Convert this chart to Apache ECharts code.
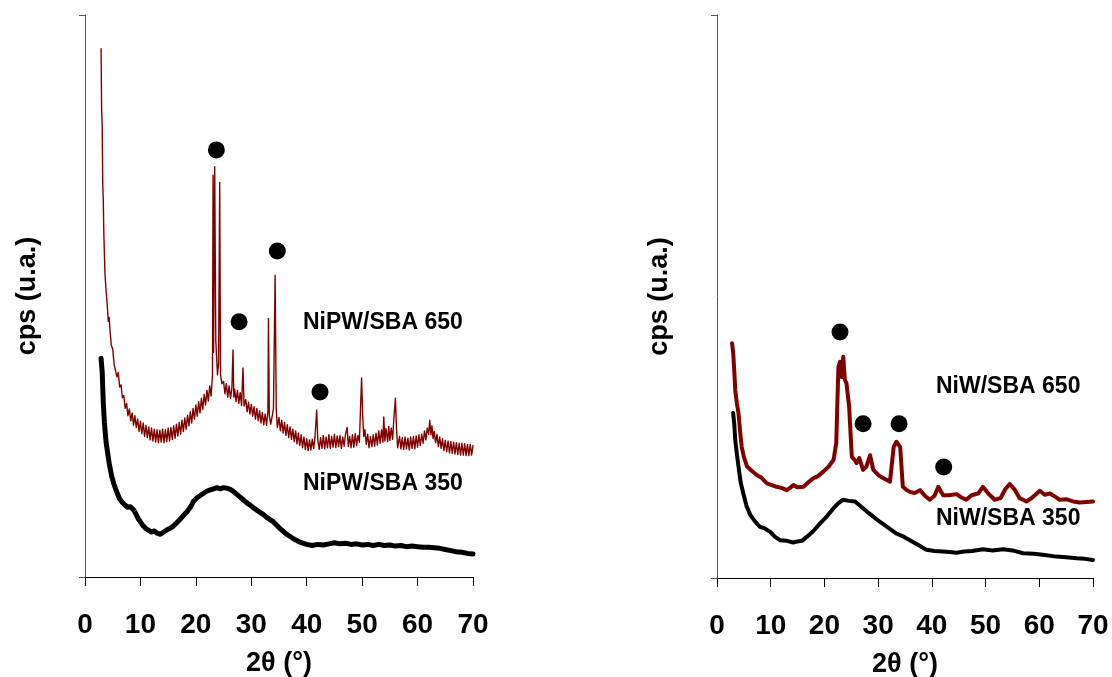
<!DOCTYPE html>
<html><head><meta charset="utf-8">
<script src="https://cdn.jsdelivr.net/npm/echarts@6/dist/echarts.min.js"></script>
<style>html,body{margin:0;padding:0;background:#fff}#c{width:1112px;height:677px}</style>
</head><body><div id="c"></div>
<script>
const xTicks = [0,10,20,30,40,50,60,70];
const xTitle = '2θ (°)';
const yTitle = 'cps (u.a.)';
const seriesNames = ['NiPW/SBA 650','NiPW/SBA 350','NiW/SBA 650','NiW/SBA 350'];

const nipw650 = [[2.9,94],[3.0,83],[3.1,80.5],[3.2,70],[3.3,67],[3.4,61],[3.5,57.5],[3.6,54],[3.8,51],[4.0,48.5],[4.2,45.5],[4.35,46.2],[4.5,44.0],[4.75,41.2],[5.0,40.6],[5.25,37.9],[5.5,38.1],[5.75,35.6],[6.0,36.4],[6.25,33.8],[6.5,34.2],[6.75,31.9],[7.0,32.3],[7.25,30.0],[7.5,30.9],[7.75,28.7],[8.0,29.9],[8.25,27.8],[8.5,29.2],[8.75,27.0],[9.0,28.7],[9.25,26.6],[9.5,28.1],[9.75,25.9],[10.0,27.7],[10.25,25.5],[10.5,27.4],[10.75,25.0],[11.0,27.0],[11.25,24.8],[11.5,26.7],[11.75,24.4],[12.0,26.5],[12.25,24.2],[12.5,26.3],[12.75,24.0],[13.0,26.2],[13.25,23.9],[13.5,26.1],[13.75,24.0],[14.0,26.3],[14.25,23.9],[14.5,26.2],[14.75,24.1],[15.0,26.5],[15.25,24.2],[15.5,26.6],[15.75,24.5],[16.0,26.9],[16.25,24.7],[16.5,27.2],[16.75,25.1],[17.0,27.5],[17.25,25.4],[17.5,27.9],[17.75,25.9],[18.0,28.3],[18.25,26.3],[18.5,28.8],[18.75,26.9],[19.0,29.4],[19.25,27.4],[19.5,30.0],[19.75,28.1],[20.0,30.6],[20.25,28.6],[20.5,31.2],[20.75,29.2],[21.0,31.8],[21.25,29.8],[21.5,32.5],[21.75,30.6],[22.0,33.2],[22.25,31.3],[22.5,34.0],[22.75,32.2],[23.0,36],[23.1,71.5],[23.2,40],[23.4,73],[23.6,42],[23.9,36],[24.1,38],[24.3,70.2],[24.45,36],[24.7,34.4],[25.0,34.8],[25.25,32.6],[25.5,34.4],[25.75,32.0],[26.0,34.0],[26.25,31.8],[26.5,33.6],[26.7,40.4],[26.85,32.0],[27.0,33.4],[27.25,31.2],[27.5,33.2],[27.75,30.9],[28.0,32.8],[28.25,30.5],[28.5,37.2],[28.7,30.4],[29.0,31.6],[29.25,29.4],[29.5,31.1],[29.75,29.0],[30.0,30.7],[30.25,28.6],[30.5,30.3],[30.75,28.1],[31.0,30.0],[31.25,27.8],[31.5,29.6],[31.75,27.4],[32.0,29.3],[32.25,27.1],[32.5,29.0],[32.75,27.0],[33.0,29.5],[33.1,46],[33.25,28.8],[33.5,27.2],[33.75,28.5],[34.0,30],[34.3,53.7],[34.5,30],[34.7,26.6],[35.0,28.4],[35.25,26.0],[35.5,27.9],[35.75,25.6],[36.0,27.5],[36.25,25.2],[36.5,27.1],[36.75,24.8],[37.0,26.7],[37.25,24.5],[37.5,26.3],[37.75,24.1],[38.0,26.0],[38.25,23.7],[38.5,25.6],[38.75,23.4],[39.0,25.3],[39.25,23.0],[39.5,24.9],[39.75,22.7],[40.0,24.6],[40.25,22.5],[40.5,24.4],[40.75,22.6],[41.0,24.5],[41.25,22.9],[41.5,25.0],[41.8,29.7],[42.0,24.4],[42.25,22.7],[42.5,24.8],[42.75,22.9],[43.0,25.2],[43.25,22.8],[43.5,24.9],[43.75,23.0],[44.0,25.3],[44.25,22.9],[44.5,25.0],[44.75,23.1],[45.0,25.4],[45.25,23.0],[45.5,25.1],[45.75,23.2],[46.0,25.2],[46.25,22.9],[46.5,24.9],[46.75,23.3],[47.0,25.4],[47.3,26.6],[47.5,23.2],[47.75,25.0],[48.0,23.0],[48.25,25.3],[48.5,23.1],[48.75,25.5],[49.0,23.4],[49.25,25.2],[49.5,24.0],[49.9,35.4],[50.1,28.5],[50.3,25.0],[50.5,26.2],[50.75,23.6],[51.0,25.4],[51.25,23.0],[51.5,25.0],[51.75,23.2],[52.0,25.3],[52.25,23.3],[52.5,25.6],[52.75,23.5],[53.0,26.0],[53.25,23.8],[53.5,26.2],[53.75,24.0],[53.9,28.5],[54.1,24.2],[54.3,26.4],[54.6,24.1],[54.8,26.8],[55.0,24.3],[55.25,26.5],[55.5,24.5],[55.7,27.8],[56.0,31.8],[56.2,26.5],[56.4,23.0],[56.75,25.0],[57.0,22.8],[57.25,24.8],[57.5,22.7],[57.75,24.9],[58.0,22.8],[58.25,24.7],[58.5,22.6],[58.75,24.9],[59.0,22.9],[59.25,25.0],[59.5,22.8],[59.75,25.1],[60.0,23.1],[60.25,25.3],[60.5,23.4],[60.75,25.4],[61.0,23.8],[61.25,26.0],[61.5,24.4],[61.75,26.5],[62.0,25.4],[62.2,27.9],[62.4,25.3],[62.6,26.9],[62.8,24.6],[63.0,25.9],[63.25,23.9],[63.5,25.4],[63.75,23.2],[64.0,24.9],[64.25,22.9],[64.5,24.6],[64.75,22.5],[65.0,24.3],[65.25,22.3],[65.5,24.2],[65.75,22.1],[66.0,24.1],[66.25,22.0],[66.5,24.0],[66.75,21.9],[67.0,23.9],[67.25,21.8],[67.5,23.8],[67.75,21.7],[68.0,23.8],[68.25,21.7],[68.5,23.7],[68.75,21.6],[69.0,23.6],[69.25,21.6],[69.5,23.6],[69.75,21.7],[70.0,23.4]];

const nipw350 = [[2.9,38.9],[3.1,36.5],[3.3,31],[3.5,27.5],[3.8,24],[4.1,22],[4.4,20],[4.8,18],[5.2,16.6],[5.7,15.2],[6.2,14.0],[6.7,13.3],[7.2,12.8],[7.7,12.4],[8.2,12.5],[8.8,11.9],[9.2,11.2],[9.6,10.4],[10.0,9.8],[10.5,9.1],[11.0,8.6],[11.5,8.3],[12.0,8.0],[12.5,8.2],[13.0,7.8],[13.6,7.6],[14.2,8.0],[14.8,8.4],[15.4,8.7],[16.0,9.1],[16.6,9.7],[17.2,10.3],[17.8,11.0],[18.4,11.6],[19.0,12.4],[19.6,13.5],[20.2,14.1],[20.8,14.5],[21.4,14.9],[22.0,15.3],[22.6,15.5],[23.2,15.7],[23.8,15.9],[24.4,15.7],[25.0,15.9],[25.6,15.8],[26.2,15.6],[26.8,15.2],[27.4,14.7],[28.0,14.2],[28.6,13.7],[29.2,13.2],[29.8,12.8],[30.4,12.3],[31.0,11.9],[31.6,11.5],[32.2,11.1],[32.8,10.6],[33.4,10.2],[34.0,9.8],[34.6,9.2],[35.2,8.6],[35.8,8.1],[36.4,7.6],[37.0,7.2],[37.6,6.8],[38.2,6.5],[38.8,6.2],[39.4,6.0],[40.0,5.8],[41.0,5.6],[42.0,5.8],[43.0,5.7],[44.0,5.9],[45.0,6.1],[46.0,5.9],[47.0,6.0],[48.0,5.8],[49.0,5.9],[50.0,5.7],[51.0,5.8],[52.0,5.6],[53.0,5.8],[54.0,5.6],[55.0,5.7],[56.0,5.5],[57.0,5.6],[58.0,5.4],[59.0,5.5],[60.0,5.4],[61.0,5.3],[62.0,5.3],[63.0,5.2],[64.0,5.1],[65.0,4.9],[66.0,4.7],[67.0,4.5],[68.0,4.4],[69.0,4.2],[70.0,4.1]];

const niw650 = [[2.8,41.7],[3.0,40.2],[3.2,37],[3.4,33.4],[3.7,31],[4.0,29.3],[4.3,26],[4.6,23.3],[5.0,21.5],[5.6,19.8],[6.5,19.0],[7.4,18.3],[8.3,17.8],[9.3,16.8],[10.2,16.5],[11.1,16.2],[12.0,16.0],[13.0,15.6],[13.6,16.0],[14.2,16.5],[15.0,16.1],[16.1,16.2],[17.0,17.0],[17.9,17.7],[18.8,18.1],[19.8,18.9],[20.8,19.8],[21.7,21.0],[22.2,24],[22.6,37.5],[22.9,38.4],[23.2,35.7],[23.5,39.3],[23.8,35.2],[24.1,34.6],[24.6,30.4],[25.1,21.5],[25.6,21.0],[26.0,20.4],[26.5,21.3],[27.2,19.2],[27.8,19.8],[28.5,21.8],[29.1,19.2],[30.0,18.3],[31.0,17.7],[32.2,17.1],[32.9,23.3],[33.4,24.2],[34.1,23.3],[34.6,16.2],[35.2,15.7],[35.9,15.3],[36.8,15.1],[37.8,15.6],[38.7,14.6],[39.6,13.9],[40.5,14.6],[41.2,16.2],[42.1,14.7],[43.2,14.7],[44.6,14.9],[45.5,14.3],[46.4,13.9],[47.4,14.7],[48.6,15.0],[49.5,16.2],[50.5,15.0],[51.7,13.9],[52.8,14.2],[53.7,15.8],[54.5,16.7],[55.5,15.6],[56.3,14.2],[57.0,13.9],[57.6,13.6],[58.6,14.2],[60.1,15.5],[61.0,14.8],[62.0,15.0],[63.0,14.4],[63.8,13.9],[65.0,14.0],[66.3,13.6],[67.5,13.4],[68.8,13.5],[70.0,13.6]];

const niw350 = [[3.0,29.3],[3.2,27.5],[3.4,24.5],[3.7,22],[4.0,19.8],[4.4,17],[4.9,15],[5.5,12.8],[6.2,11.2],[7.1,10.0],[8.0,9.1],[8.9,8.8],[9.9,8.2],[10.8,7.3],[11.8,6.7],[13.0,6.6],[14.2,6.3],[15.0,6.5],[15.8,6.6],[16.7,7.3],[18.0,8.4],[19.2,9.7],[20.5,11.0],[21.7,12.4],[22.6,13.3],[23.5,13.9],[24.6,13.7],[25.7,13.6],[26.8,12.7],[27.9,11.8],[29.1,10.9],[30.3,10.0],[31.8,9.0],[33.4,7.9],[34.6,7.4],[35.9,6.7],[37.4,5.9],[39.0,5.0],[40.5,4.8],[42.0,4.7],[43.3,4.6],[44.6,4.5],[46.0,4.7],[47.5,4.8],[49.5,5.1],[51.3,4.9],[53.3,5.1],[55.0,4.9],[57.0,4.4],[59.0,4.3],[61.0,4.1],[63.2,3.8],[65.0,3.7],[67.0,3.5],[68.5,3.4],[70.0,3.2]];

const markersLeft = [[23.7,76],[27.8,45.4],[34.7,58],[42.4,32.9]];
const markersRight = [[22.9,43.7],[27.2,27.4],[33.9,27.4],[42.2,19.7]];

const RED = '#800000';
const FONT = 'Liberation Sans, Arial, sans-serif';

function xAxisCfg(gi){
  return {
    gridIndex: gi, type:'value', min:0, max:70, interval:10,
    axisLine:{show:true,onZero:false,lineStyle:{color:'#000',width:1}},
    axisTick:{show:true,inside:false,length:9,lineStyle:{color:'#000',width:1}},
    axisLabel:{show:true,margin:34,fontSize:28,fontWeight:'bold',color:'#000',fontFamily:FONT,
      formatter:function(v){return xTicks.indexOf(v)>=0?String(v):'';}},
    splitLine:{show:false},
    name:xTitle, nameLocation:'middle', nameGap:73,
    nameTextStyle:{fontSize:27,fontWeight:'bold',color:'#000',fontFamily:FONT}
  };
}
function yAxisCfg(gi){
  return {
    gridIndex: gi, type:'value', min:0, max:100, interval:100,
    axisLine:{show:true,lineStyle:{color:'#555',width:1}},
    axisTick:{show:true,inside:false,length:6,lineStyle:{color:'#555',width:1}},
    axisLabel:{show:false}, splitLine:{show:false},
    name:yTitle, nameLocation:'middle', nameGap:44, nameRotate:90,
    nameTextStyle:{fontSize:27,fontWeight:'bold',color:'#000',fontFamily:FONT}
  };
}
function lineS(name, data, gi, color, width){
  return {name:name,type:'line',xAxisIndex:gi,yAxisIndex:gi,data:data,showSymbol:false,
    lineStyle:{color:color,width:width,join:'round',cap:'round'},itemStyle:{color:color},animation:false};
}
function dots(data, gi){
  return {type:'scatter',xAxisIndex:gi,yAxisIndex:gi,data:data,symbol:'circle',symbolSize:17,
    itemStyle:{color:'#000',opacity:1},animation:false,z:5};
}
function lbl(text, x, y){
  return {type:'text',left:x,top:y,style:{text:text,fontSize:23,fontWeight:'bold',fill:'#000',fontFamily:FONT}};
}

const chart = echarts.init(document.getElementById('c'), null, {renderer:'canvas'});
chart.setOption({
  backgroundColor:'#fff',
  animation:false,
  grid:[
    {left:85, top:15, width:388, height:562, outerBoundsMode:'none', containLabel:false},
    {left:717, top:15, width:376, height:563, outerBoundsMode:'none', containLabel:false}
  ],
  xAxis:[xAxisCfg(0), xAxisCfg(1)],
  yAxis:[yAxisCfg(0), yAxisCfg(1)],
  series:[
    lineS(seriesNames[0], nipw650, 0, RED, 1.4),
    lineS(seriesNames[1], nipw350, 0, '#000', 5),
    lineS(seriesNames[2], niw650, 1, RED, 4),
    lineS(seriesNames[3], niw350, 1, '#000', 4),
    dots(markersLeft, 0),
    dots(markersRight, 1)
  ],
  graphic:[
    lbl(seriesNames[0], 303, 311),
    lbl(seriesNames[1], 303, 472),
    lbl(seriesNames[2], 936, 375),
    lbl(seriesNames[3], 936, 507)
  ]
});
</script></body></html>
